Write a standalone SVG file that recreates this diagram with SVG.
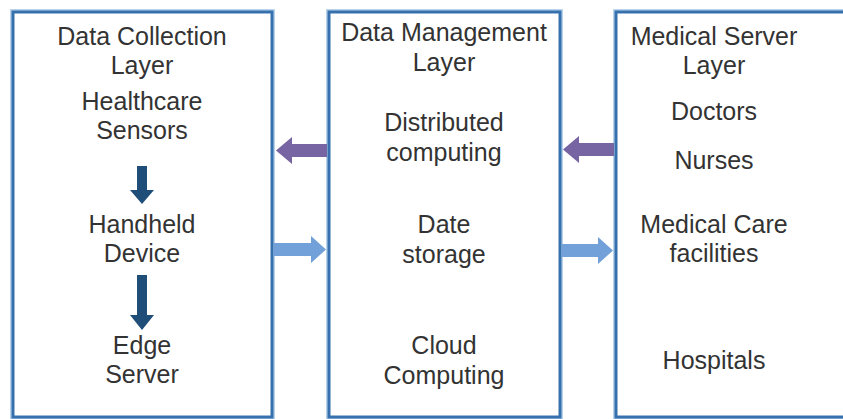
<svg xmlns="http://www.w3.org/2000/svg" width="843" height="419" viewBox="0 0 843 419">
  <style>
    .layer-halo { fill: none; stroke: #b9d3ec; stroke-width: 6; }
    .layer { fill: #ffffff; stroke: #3771ad; stroke-width: 3; }
    .label { font-family: "Liberation Sans", Arial, Helvetica, sans-serif; font-size: 25px; fill: #333333; text-anchor: middle; }
    .flow-back { fill: #7765a3; }
    .flow-fwd { fill: #72a0d8; }
    .step { fill: #1f4e79; }
  </style>
  <rect width="843" height="419" fill="#ffffff"/>

  <!-- Data collection layer -->
  <g id="data-collection-layer">
    <rect class="layer-halo" x="13" y="12" width="259" height="405"/>
    <rect class="layer" x="13" y="12" width="259" height="405"/>
    <text class="label" x="142" y="45">Data Collection</text>
    <text class="label" x="142" y="74">Layer</text>
    <text class="label" x="142" y="110">Healthcare</text>
    <text class="label" x="142" y="139">Sensors</text>
    <text class="label" x="142" y="233">Handheld</text>
    <text class="label" x="142" y="262">Device</text>
    <text class="label" x="142" y="354">Edge</text>
    <text class="label" x="142" y="383">Server</text>
  </g>

  <!-- Data management layer -->
  <g id="data-management-layer">
    <rect class="layer-halo" x="329" y="12" width="231" height="405"/>
    <rect class="layer" x="329" y="12" width="231" height="405"/>
    <text class="label" x="444" y="41">Data Management</text>
    <text class="label" x="444" y="71">Layer</text>
    <text class="label" x="444" y="131">Distributed</text>
    <text class="label" x="444" y="161">computing</text>
    <text class="label" x="444" y="233">Date</text>
    <text class="label" x="444" y="263">storage</text>
    <text class="label" x="444" y="354">Cloud</text>
    <text class="label" x="444" y="384">Computing</text>
  </g>

  <!-- Medical server layer -->
  <g id="medical-server-layer">
    <rect class="layer-halo" x="616" y="12" width="240" height="405"/>
    <rect class="layer" x="616" y="12" width="240" height="405"/>
    <text class="label" x="714" y="45">Medical Server</text>
    <text class="label" x="714" y="74">Layer</text>
    <text class="label" x="714" y="120">Doctors</text>
    <text class="label" x="714" y="169">Nurses</text>
    <text class="label" x="714" y="233">Medical Care</text>
    <text class="label" x="714" y="262">facilities</text>
    <text class="label" x="714" y="369">Hospitals</text>
  </g>

  <!-- Connectors -->
  <g id="connectors">
    <!-- inside the collection layer -->
    <polygon class="step" points="137,166 147,166 147,190 154,190 142,204 130,190 137,190"/>
    <polygon class="step" points="137,275 147,275 147,315 154,315 142,330 130,315 137,315"/>
    <!-- management -> collection -->
    <polygon class="flow-back" points="327,144 327,157 292,157 292,164 276,150.5 292,137 292,144"/>
    <!-- collection -> management -->
    <polygon class="flow-fwd" points="274,243 274,256 311,256 311,263 326,249.5 311,236 311,243"/>
    <!-- medical server -> management -->
    <polygon class="flow-back" points="614,143 614,156 579,156 579,163 563,149.5 579,136 579,143"/>
    <!-- management -> medical server -->
    <polygon class="flow-fwd" points="562,244 562,257 598,257 598,264 613,250.5 598,237 598,244"/>
  </g>
</svg>
